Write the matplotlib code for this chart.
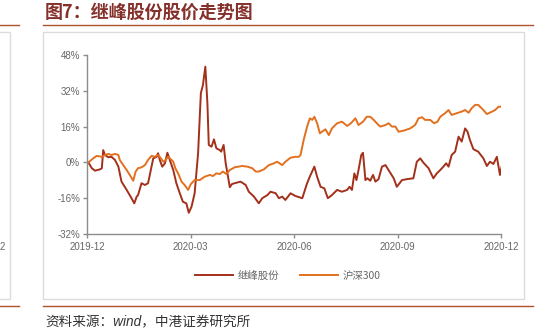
import matplotlib
matplotlib.use("Agg")
import matplotlib.pyplot as plt
from matplotlib.patches import Rectangle
from matplotlib.lines import Line2D

plt.rcParams['font.family'] = ['Liberation Sans', 'Noto Sans CJK SC', 'DejaVu Sans']

title = "图7：继峰股份股价走势图"
source = "资料来源：wind，中港证券研究所"
series_names = ["继峰股份", "沪深300"]
tick_pos = [0, 3, 6, 9, 12]
tick_labels = ["2019-12", "2020-03", "2020-06", "2020-09", "2020-12"]
y_ticks = [-32, -16, 0, 16, 32, 48]

# months since 2019-12 start, and % change
stock_x = [0.04, 0.14, 0.23, 0.38, 0.43, 0.47, 0.52, 0.62, 0.71, 0.81, 0.91, 1.00, 1.15, 1.29, 1.37,
           1.44, 1.48, 1.58, 1.68, 1.77, 1.82, 1.92, 2.02, 2.06, 2.11, 2.18, 2.26, 2.33, 2.40, 2.50,
           2.59, 2.69, 2.78, 2.88, 2.95, 3.03, 3.12, 3.22, 3.30, 3.36, 3.43, 3.49, 3.53, 3.61, 3.68,
           3.75, 3.85, 3.89, 3.96, 4.02, 4.14, 4.20, 4.28, 4.45, 4.60, 4.69, 4.84, 4.98, 5.08, 5.23,
           5.32, 5.47, 5.56, 5.66, 5.75, 5.90, 6.04, 6.24, 6.38, 6.48, 6.59, 6.67, 6.77, 6.88, 6.98,
           7.10, 7.25, 7.39, 7.54, 7.61, 7.68, 7.75, 7.81, 7.87, 7.95, 8.00, 8.07, 8.13, 8.21, 8.29,
           8.36, 8.45, 8.55, 8.65, 8.74, 8.89, 8.98, 9.13, 9.27, 9.46, 9.56, 9.66, 9.75, 9.90, 10.04,
           10.14, 10.24, 10.33, 10.41, 10.48, 10.57, 10.67, 10.77, 10.86, 10.96, 11.03, 11.10, 11.20,
           11.34, 11.49, 11.59, 11.68, 11.78, 11.88, 11.97, 12.02]
stock_y = [0, -2.6, -3.7, -3.1, -2.6, 5.5, 3.3, 2.3, 2.5, 1.1, -1.9, -8.6, -12.3, -16, -18.3,
           -15.3, -14.6, -9.3, -10.1, -9.3, -5.6, 1.8, 2.5, 4.1, 1.1, -1.9, -0.4, 4.3, 1.1, -3.4,
           -9.3, -13.8, -17.6, -18.3, -22.5, -19.8, -13.8, 4.1, 30.9, 34.6, 42.8, 26.4, 7.8, 7.0, 10.3,
           6.3, 5.5, 4.8, 7.8, -0.4, -11.1, -9.7, -9.3, -8.6, -10.1, -13.1, -15.3, -18.3, -16, -14.6,
           -13.1, -13.8, -16, -15.3, -16.8, -13.8, -15, -16, -9.3, -5.6, -1.9, -6.4, -10.9, -11.6, -16,
           -14.6, -12.3, -13.1, -12.3, -10.9, -12.3, -4.9, -7.9, -3.4, 3.3, 4.3, -7.9, -7.1, -8.2, -5.6,
           -8.6, -7.5, -1.9, -1.2, -3.4, -7.1, -10.9, -7.9, -7.5, -7.1, 0.3, 1.8, -0.1, -2.6, -7.1,
           -4.9, -3.4, -1.9, -0.4, -1.9, 3.3, 4.8, 11.5, 9.3, 15.2, 13.7, 10, 5.9,
           4.8, 1.8, -1.6, 0.3, -0.7, 2.5, -5.6, -1.9]

index_x = [0.04, 0.18, 0.28, 0.43, 0.52, 0.62, 0.71, 0.81, 0.91, 0.95, 1.05, 1.15, 1.24, 1.34, 1.41,
           1.48, 1.58, 1.68, 1.77, 1.87, 1.97, 2.04, 2.11, 2.21, 2.28, 2.35, 2.43, 2.50, 2.56, 2.64,
           2.74, 2.83, 2.93, 3.01, 3.12, 3.27, 3.41, 3.56, 3.65, 3.75, 3.85, 3.94, 4.04, 4.14, 4.28,
           4.50, 4.65, 4.79, 4.89, 4.98, 5.13, 5.27, 5.42, 5.51, 5.66, 5.75, 5.90, 6.04, 6.14, 6.19,
           6.28, 6.38, 6.46, 6.53, 6.59, 6.67, 6.75, 6.81, 6.91, 7.01, 7.10, 7.25, 7.39, 7.54, 7.65,
           7.78, 7.87, 8.00, 8.11, 8.21, 8.31, 8.40, 8.50, 8.65, 8.74, 8.84, 8.94, 9.03, 9.18, 9.37,
           9.51, 9.61, 9.71, 9.80, 9.95, 10.06, 10.16, 10.24, 10.38, 10.48, 10.57, 10.72, 10.86, 10.96,
           11.06, 11.15, 11.25, 11.34, 11.49, 11.59, 11.74, 11.83, 11.93, 12.02]
index_y = [0, 1.8, 2.9, 2.5, 3.3, 3.8, 3.3, 3.8, 3.3, 1.1, -1.2, -3.4, -5.6, -8.2, -4.1,
           -2.6, -2.2, -1.2, 1.1, 2.9, 2.5, 3.3, 2.5, 0.3, 1.1, 2.5, 1.4, 0.3, -2.6, -4.9,
           -8.6, -10.1, -12.3, -9.7, -7.9, -7.9, -6.4, -5.6, -6.1, -4.9, -5.2, -4.1, -5.2, -3.4, -2.2,
           -1.6, -1.9, -2.6, -4.1, -4.1, -3.1, -1.2, -0.4, 0.3, -1.2, 0.3, 2.1, 2.5, 2.5, 3.3,
           10, 16, 19.7, 19, 20.4, 17.5, 13, 13.7, 14.8, 12.2, 15.2, 17.5, 18.2, 16.3, 17.5,
           19.7, 16.7, 18.2, 20.4, 20.4, 19, 17.5, 16, 16.7, 17.5, 16, 16, 13.7, 14.2, 15.2,
           16.7, 19.7, 20.2, 19, 19, 17.5, 18.2, 20.4, 22, 23.4, 21.2, 22, 22.7, 23.4,
           22.2, 24.2, 25.7, 25.7, 23.4, 21.6, 22.7, 23.4, 24.9, 24.9]

W, H = 554, 332
fig = plt.figure(figsize=(W / 100, H / 100), dpi=100)

def fx(px):
    return px / W

def fy(py):
    return 1 - py / H

red_dark = "#A3301A"
orange = "#E2701F"
rule_col = "#B2502E"
box_col = "#DCDCDC"
text_gray = "#666666"

# title and rules
fig.text(fx(45), fy(12), title, fontsize=13, fontweight='bold', color="#85302B",
         family=['Noto Sans CJK SC', 'DejaVu Sans'], va='center', ha='left')
fig.add_artist(Line2D([fx(43), fx(533)], [fy(25), fy(25)], color=rule_col, lw=1.0))
fig.add_artist(Line2D([fx(0), fx(19)], [fy(25), fy(25)], color=rule_col, lw=1.0))
fig.add_artist(Line2D([fx(43), fx(533)], [fy(306), fy(306)], color=rule_col, lw=1.0))
fig.add_artist(Line2D([fx(0), fx(19)], [fy(306), fy(306)], color=rule_col, lw=1.0))

# boxes
fig.add_artist(Rectangle((fx(43), fy(299)), fx(524) - fx(43), fy(32) - fy(299),
                         transform=fig.transFigure, fill=False, ec=box_col, lw=1.0))
fig.add_artist(Rectangle((fx(-20), fy(299)), fx(10) - fx(-20), fy(32) - fy(299),
                         transform=fig.transFigure, fill=False, ec=box_col, lw=1.0))
fig.text(fx(0), fy(247), "2", fontsize=7, color=text_gray, va='center', ha='left')

# source
fig.text(fx(45), fy(322), source, fontsize=9.8, color="#333333", style='italic',
         family=['Liberation Sans', 'Noto Sans CJK SC', 'DejaVu Sans'], va='center', ha='left')

ax = fig.add_axes([fx(87), fy(234), fx(501) - fx(87), fy(55) - fy(234)])
ax.plot(stock_x, stock_y, color=red_dark, lw=1.4, label=series_names[0], solid_joinstyle='round')
ax.plot(index_x, index_y, color=orange, lw=1.4, label=series_names[1], solid_joinstyle='round')
ax.set_xlim(0, 12)
ax.set_ylim(-32, 48)
ax.set_yticks(y_ticks)
ax.set_yticklabels([f"{v}%" for v in y_ticks])
ax.set_xticks(tick_pos)
ax.set_xticklabels(tick_labels)
for s in ['top', 'right']:
    ax.spines[s].set_visible(False)
for s in ['left', 'bottom']:
    ax.spines[s].set_color("#8C8C8C")
    ax.spines[s].set_linewidth(1.0)
ax.tick_params(axis='both', colors="#8C8C8C", labelcolor=text_gray, labelsize=7, length=3, width=1.0)
ax.tick_params(axis='x', pad=3)
ax.tick_params(axis='y', pad=2)
ax.set_facecolor('none')

leg = fig.legend(loc='center', bbox_to_anchor=(fx(288), fy(276)), ncol=2, frameon=False,
                 handlelength=3.6, columnspacing=2.0, handletextpad=0.5,
                 prop={'family': ['Noto Sans CJK SC', 'DejaVu Sans'], 'size': 7.5})
for t in leg.get_texts():
    t.set_color(text_gray)

fig.savefig("out.png", dpi=100)
